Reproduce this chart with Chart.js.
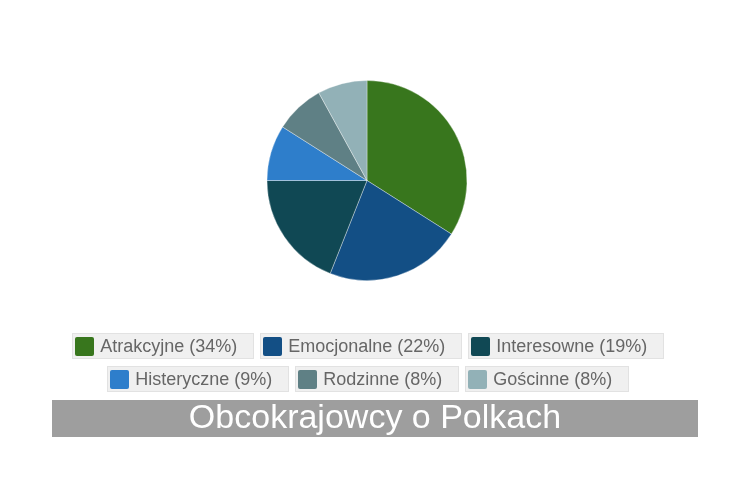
<!DOCTYPE html>
<html>
<head>
<meta charset="utf-8">
<title>Obcokrajowcy o Polkach</title>
<script src="https://cdn.jsdelivr.net/npm/chart.js@4/dist/chart.umd.min.js"></script>
<style>
  html, body { margin: 0; padding: 0; background: #fff; overflow: hidden; }
  #wrap { position: relative; width: 730px; height: 478px; }
  #legend {
    position: absolute; top: 333px; left: 6px; width: 724px;
    display: flex; flex-wrap: wrap; justify-content: center;
    column-gap: 6.5px; row-gap: 7px;
    font-family: "Liberation Sans", Arial, sans-serif; font-size: 18px; color: #666;
  }
  .item {
    display: flex; align-items: center; box-sizing: border-box; height: 26px;
    padding: 0 15.5px 0 2px; background: #f0f0f0; border: 1px solid #e2e2e2;
  }
  .swatch { width: 19px; height: 19px; border-radius: 2px; margin-right: 6px; }
</style>
</head>
<body>
<div id="wrap">
  <canvas id="canvas" width="730" height="478"></canvas>
  <div id="legend"></div>
</div>
<script>
const categories = ['Atrakcyjne', 'Emocjonalne', 'Interesowne', 'Histeryczne', 'Rodzinne', 'Gościnne'];
const shares = [34, 22, 19, 9, 8, 8];
const sliceColors = ['#38761d', '#134f85', '#104854', '#2e7ecb', '#5f8085', '#92b1b7'];
const chartTitle = 'Obcokrajowcy o Polkach';

const titleGap = 39;   // space between pie area and the grey bar

// grey bar behind the title, narrower than the canvas
const titleBar = {
  id: 'titleBar',
  afterLayout(chart) {
    const t = chart.titleBlock;
    t.left = 52;
    t.right = 698;
    t.width = t.right - t.left;
  },
  beforeDraw(chart) {
    const t = chart.titleBlock;
    const ctx = chart.ctx;
    ctx.save();
    ctx.fillStyle = '#9e9e9e';
    ctx.fillRect(t.left, t.top + titleGap, t.right - t.left, t.bottom - t.top - titleGap);
    ctx.restore();
  }
};

const ctx = document.getElementById('canvas').getContext('2d');
const myChart = new Chart(ctx, {
    type: 'pie',
    data: {
        labels: categories,
        datasets: [{
            data: shares,
            backgroundColor: sliceColors,
            borderColor: 'rgba(255, 255, 255, 0.35)',
            borderWidth: 1,
            radius: 100,
            hoverOffset: 0
        }]
    },
    options: {
        responsive: false,
        animation: false,
        layout: {
            padding: { top: 0, left: 4, right: 0, bottom: 41 }
        },
        plugins: {
            legend: { display: false },
            tooltip: { enabled: false },
            title: {
                display: true,
                position: 'bottom',
                text: chartTitle,
                color: '#ffffff',
                font: { family: 'Liberation Sans', size: 34, weight: 'normal', lineHeight: '37px' },
                padding: { top: titleGap, bottom: 0 }
            }
        }
    },
    plugins: [titleBar]
});

// legend as html boxes under the pie
const legendEl = document.getElementById('legend');
categories.forEach((name, i) => {
    const item = document.createElement('div');
    item.className = 'item';
    const sw = document.createElement('span');
    sw.className = 'swatch';
    sw.style.background = sliceColors[i];
    const txt = document.createElement('span');
    txt.textContent = name + ' (' + shares[i] + '%)';
    item.appendChild(sw);
    item.appendChild(txt);
    legendEl.appendChild(item);
});
</script>
</body>
</html>
